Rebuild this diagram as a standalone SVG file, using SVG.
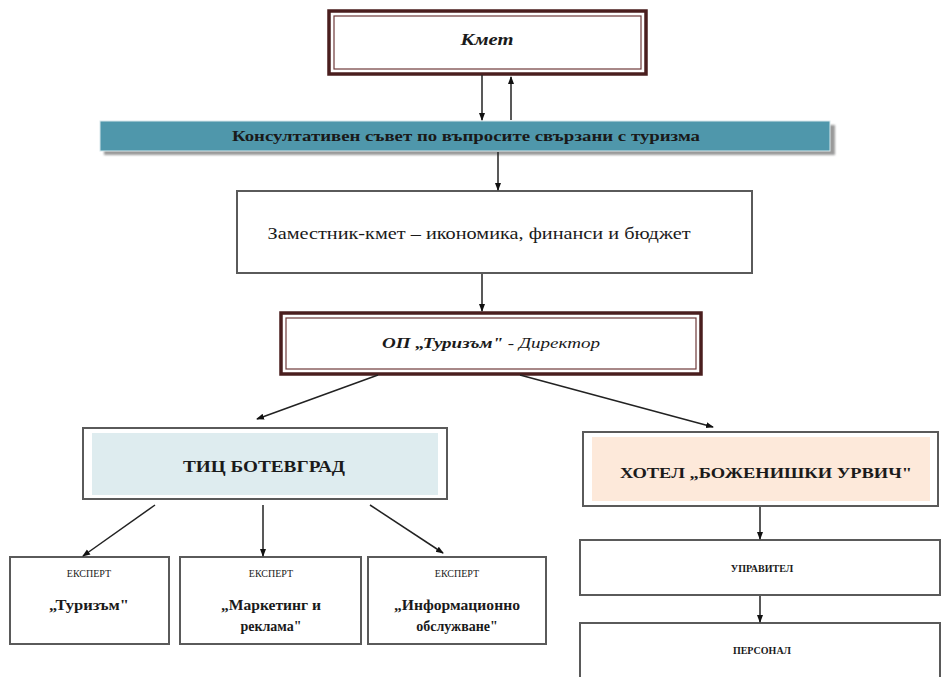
<svg xmlns="http://www.w3.org/2000/svg" width="946" height="677" viewBox="0 0 946 677">
<defs>
<marker id="ah" markerWidth="8" markerHeight="8" refX="7" refY="4" orient="auto" markerUnits="userSpaceOnUse">
<path d="M0,1 L8,4 L0,7 Z" fill="#111"/>
</marker>
<filter id="sh" x="-5%" y="-20%" width="110%" height="160%">
<feGaussianBlur stdDeviation="1.2"/>
</filter>
</defs>
<style>
.t{font-family:"Liberation Serif","Times New Roman",serif;fill:#1a1a1a;text-anchor:middle}
.b{font-weight:bold}
.i{font-style:italic}
.box{fill:#fff;stroke:#5a5a5a;stroke-width:2}
.dbo{fill:#fff;stroke:#4a1e1e;stroke-width:3.5}
.dbi{fill:none;stroke:#6e3a3a;stroke-width:1.2}
.conn line{stroke:#222;stroke-width:1.5;marker-end:url(#ah)}
</style>
<rect width="946" height="677" fill="#fff"/>

<g id="kmet">
<rect class="dbo" x="329" y="11" width="317" height="63"/>
<rect class="dbi" x="334" y="16" width="307" height="53"/>
<text class="t b i" x="487" y="45" font-size="17" textLength="53" lengthAdjust="spacingAndGlyphs">Кмет</text>
</g>

<g id="suvet">
<rect x="104" y="125" width="731" height="30" fill="#9a9a9a" filter="url(#sh)"/>
<rect x="100" y="121" width="730" height="30" fill="#4f97ab" stroke="#d8e8ec" stroke-width="1"/>
<text class="t b" x="466" y="141" font-size="15" textLength="468" lengthAdjust="spacingAndGlyphs" fill="#0f1e2a">Консултативен съвет по въпросите свързани с туризма</text>
</g>

<g id="zamestnik">
<rect class="box" x="237" y="191" width="515" height="82"/>
<text class="t" x="479" y="239" font-size="16" textLength="423" lengthAdjust="spacingAndGlyphs">Заместник-кмет – икономика, финанси и бюджет</text>
</g>

<g id="op">
<rect class="dbo" x="281" y="313" width="420" height="61"/>
<rect class="dbi" x="286" y="318" width="410" height="51"/>
<text class="t i" x="491" y="348" font-size="14" textLength="218" lengthAdjust="spacingAndGlyphs"><tspan font-weight="bold">ОП „Туризъм"</tspan> - Директор</text>
</g>

<g id="tic">
<rect class="box" x="83" y="428" width="364" height="71"/>
<rect x="92" y="433" width="346" height="62" fill="#deecef"/>
<text class="t b" x="264" y="472" font-size="16" textLength="162" lengthAdjust="spacingAndGlyphs">ТИЦ БОТЕВГРАД</text>
</g>

<g id="hotel">
<rect class="box" x="583" y="432" width="355" height="74"/>
<rect x="592" y="437" width="338" height="64" fill="#fde9da"/>
<text class="t b" x="766" y="478" font-size="15" textLength="292" lengthAdjust="spacingAndGlyphs">ХОТЕЛ „БОЖЕНИШКИ УРВИЧ"</text>
</g>

<g id="ekspert1">
<rect class="box" x="10" y="557" width="159" height="87"/>
<text class="t" x="89" y="577" font-size="10">ЕКСПЕРТ</text>
<text class="t b" x="89" y="610" font-size="14" textLength="80" lengthAdjust="spacingAndGlyphs">„Туризъм"</text>
</g>

<g id="ekspert2">
<rect class="box" x="180" y="557" width="181" height="87"/>
<text class="t" x="271" y="577" font-size="10">ЕКСПЕРТ</text>
<text class="t b" x="271" y="610" font-size="14" textLength="100" lengthAdjust="spacingAndGlyphs">„Маркетинг и</text>
<text class="t b" x="271" y="631" font-size="14">реклама"</text>
</g>

<g id="ekspert3">
<rect class="box" x="368" y="557" width="178" height="87"/>
<text class="t" x="457" y="577" font-size="10">ЕКСПЕРТ</text>
<text class="t b" x="457" y="610" font-size="14" textLength="126" lengthAdjust="spacingAndGlyphs">„Информационно</text>
<text class="t b" x="457" y="631" font-size="14">обслужване"</text>
</g>

<g id="upravitel">
<rect class="box" x="580" y="540" width="360" height="55"/>
<text class="t b" x="762" y="572" font-size="10">УПРАВИТЕЛ</text>
</g>

<g id="personal">
<rect class="box" x="580" y="623" width="360" height="60"/>
<text class="t b" x="762" y="654" font-size="10">ПЕРСОНАЛ</text>
</g>

<g id="connectors" class="conn">
<line x1="482" y1="75" x2="482" y2="120"/>
<line x1="511" y1="120" x2="511" y2="77"/>
<line x1="498" y1="152" x2="498" y2="190"/>
<line x1="482" y1="274" x2="482" y2="311"/>
<line x1="378" y1="375" x2="257" y2="419"/>
<line x1="520" y1="375" x2="713" y2="427"/>
<line x1="155" y1="505" x2="83" y2="556"/>
<line x1="263" y1="505" x2="263" y2="556"/>
<line x1="370" y1="505" x2="443" y2="553"/>
<line x1="760" y1="507" x2="760" y2="539"/>
<line x1="760" y1="596" x2="760" y2="622"/>
</g>
</svg>
